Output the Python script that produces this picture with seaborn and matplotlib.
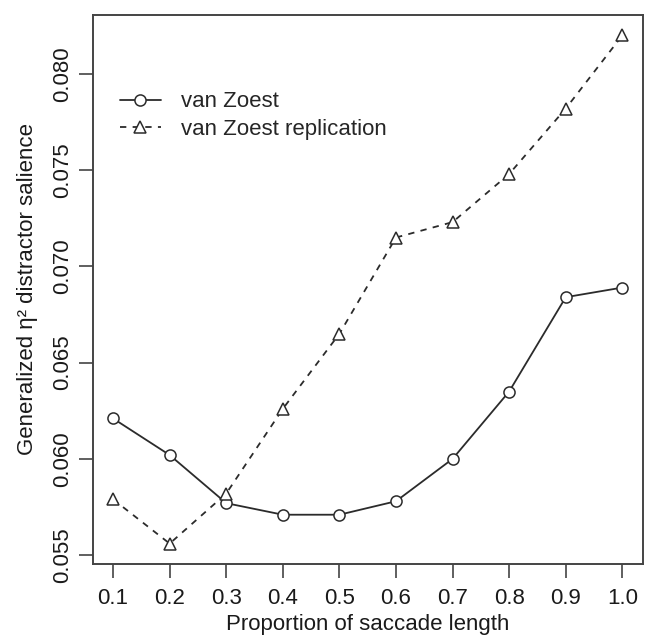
import matplotlib
matplotlib.use('Agg')
import matplotlib.pyplot as plt
import seaborn as sns
import pandas as pd

sns.set_style('white')
plt.rcParams['font.family'] = ['Liberation Sans', 'DejaVu Sans']

proportion = [0.1, 0.2, 0.3, 0.4, 0.5, 0.6, 0.7, 0.8, 0.9, 1.0]
van_zoest = [0.0621, 0.0602, 0.0577, 0.0571, 0.0571, 0.0578, 0.0600, 0.0635, 0.0684, 0.0689]
replication = [0.0579, 0.0556, 0.0582, 0.0626, 0.0665, 0.0715, 0.0723, 0.0748, 0.0782, 0.0820]
series = ['van Zoest', 'van Zoest replication']
x_ticks = [0.1, 0.2, 0.3, 0.4, 0.5, 0.6, 0.7, 0.8, 0.9, 1.0]
y_ticks = [0.055, 0.060, 0.065, 0.070, 0.075, 0.080]

df = pd.DataFrame({
    'prop': proportion * 2,
    'eta': van_zoest + replication,
    'study': [series[0]] * len(proportion) + [series[1]] * len(proportion),
})

ink = '#2b2b2b'
fs = 16
fig = plt.figure(figsize=(6.46, 6.38), dpi=100)
ax = fig.add_axes([0.1435, 0.116, 0.8514, 0.8605])

sns.lineplot(data=df, x='prop', y='eta', hue='study', style='study',
             palette={s: ink for s in series},
             markers={series[0]: 'o', series[1]: '^'},
             dashes={series[0]: '', series[1]: (3.5, 3.5)},
             markersize=8, markerfacecolor='white', markeredgecolor=ink,
             markeredgewidth=1.1, linewidth=1.3, legend=False, ax=ax)

handles = ax.get_lines()[:2]
handles[1].set_markersize(9)
ax.legend(handles, series, loc='upper left', bbox_to_anchor=(0.049, 0.861),
          frameon=False, fontsize=fs, handlelength=1.86, handletextpad=0.92,
          borderpad=0, borderaxespad=0, labelspacing=0.3)

ax.set_xlim(0.064, 1.036)
ax.set_ylim(0.05454, 0.08306)
ax.set_xticks(x_ticks)
ax.set_xticklabels([f'{v:.1f}' for v in x_ticks])
ax.set_yticks(y_ticks)
ax.set_yticklabels([f'{v:.3f}' for v in y_ticks], rotation=90, va='center')

ax.tick_params(axis='both', direction='out', length=10, width=1.2, color='#444444',
               labelsize=fs, labelcolor='#1a1a1a', bottom=True, left=True)
ax.tick_params(axis='x', pad=7)
ax.tick_params(axis='y', pad=4)
for sp in ax.spines.values():
    sp.set_color('#444444')
    sp.set_linewidth(1.4)

ax.set_xlabel('Proportion of saccade length', fontsize=fs, color='#1a1a1a')
ax.set_ylabel('Generalized η² distractor salience', fontsize=fs, color='#1a1a1a')
ax.xaxis.label.set_va('center')
ax.yaxis.label.set_va('center')
ax.xaxis.set_label_coords(0.5, -0.111)
ax.yaxis.set_label_coords(-0.118, 0.5)

fig.savefig('out.png', dpi=100)
